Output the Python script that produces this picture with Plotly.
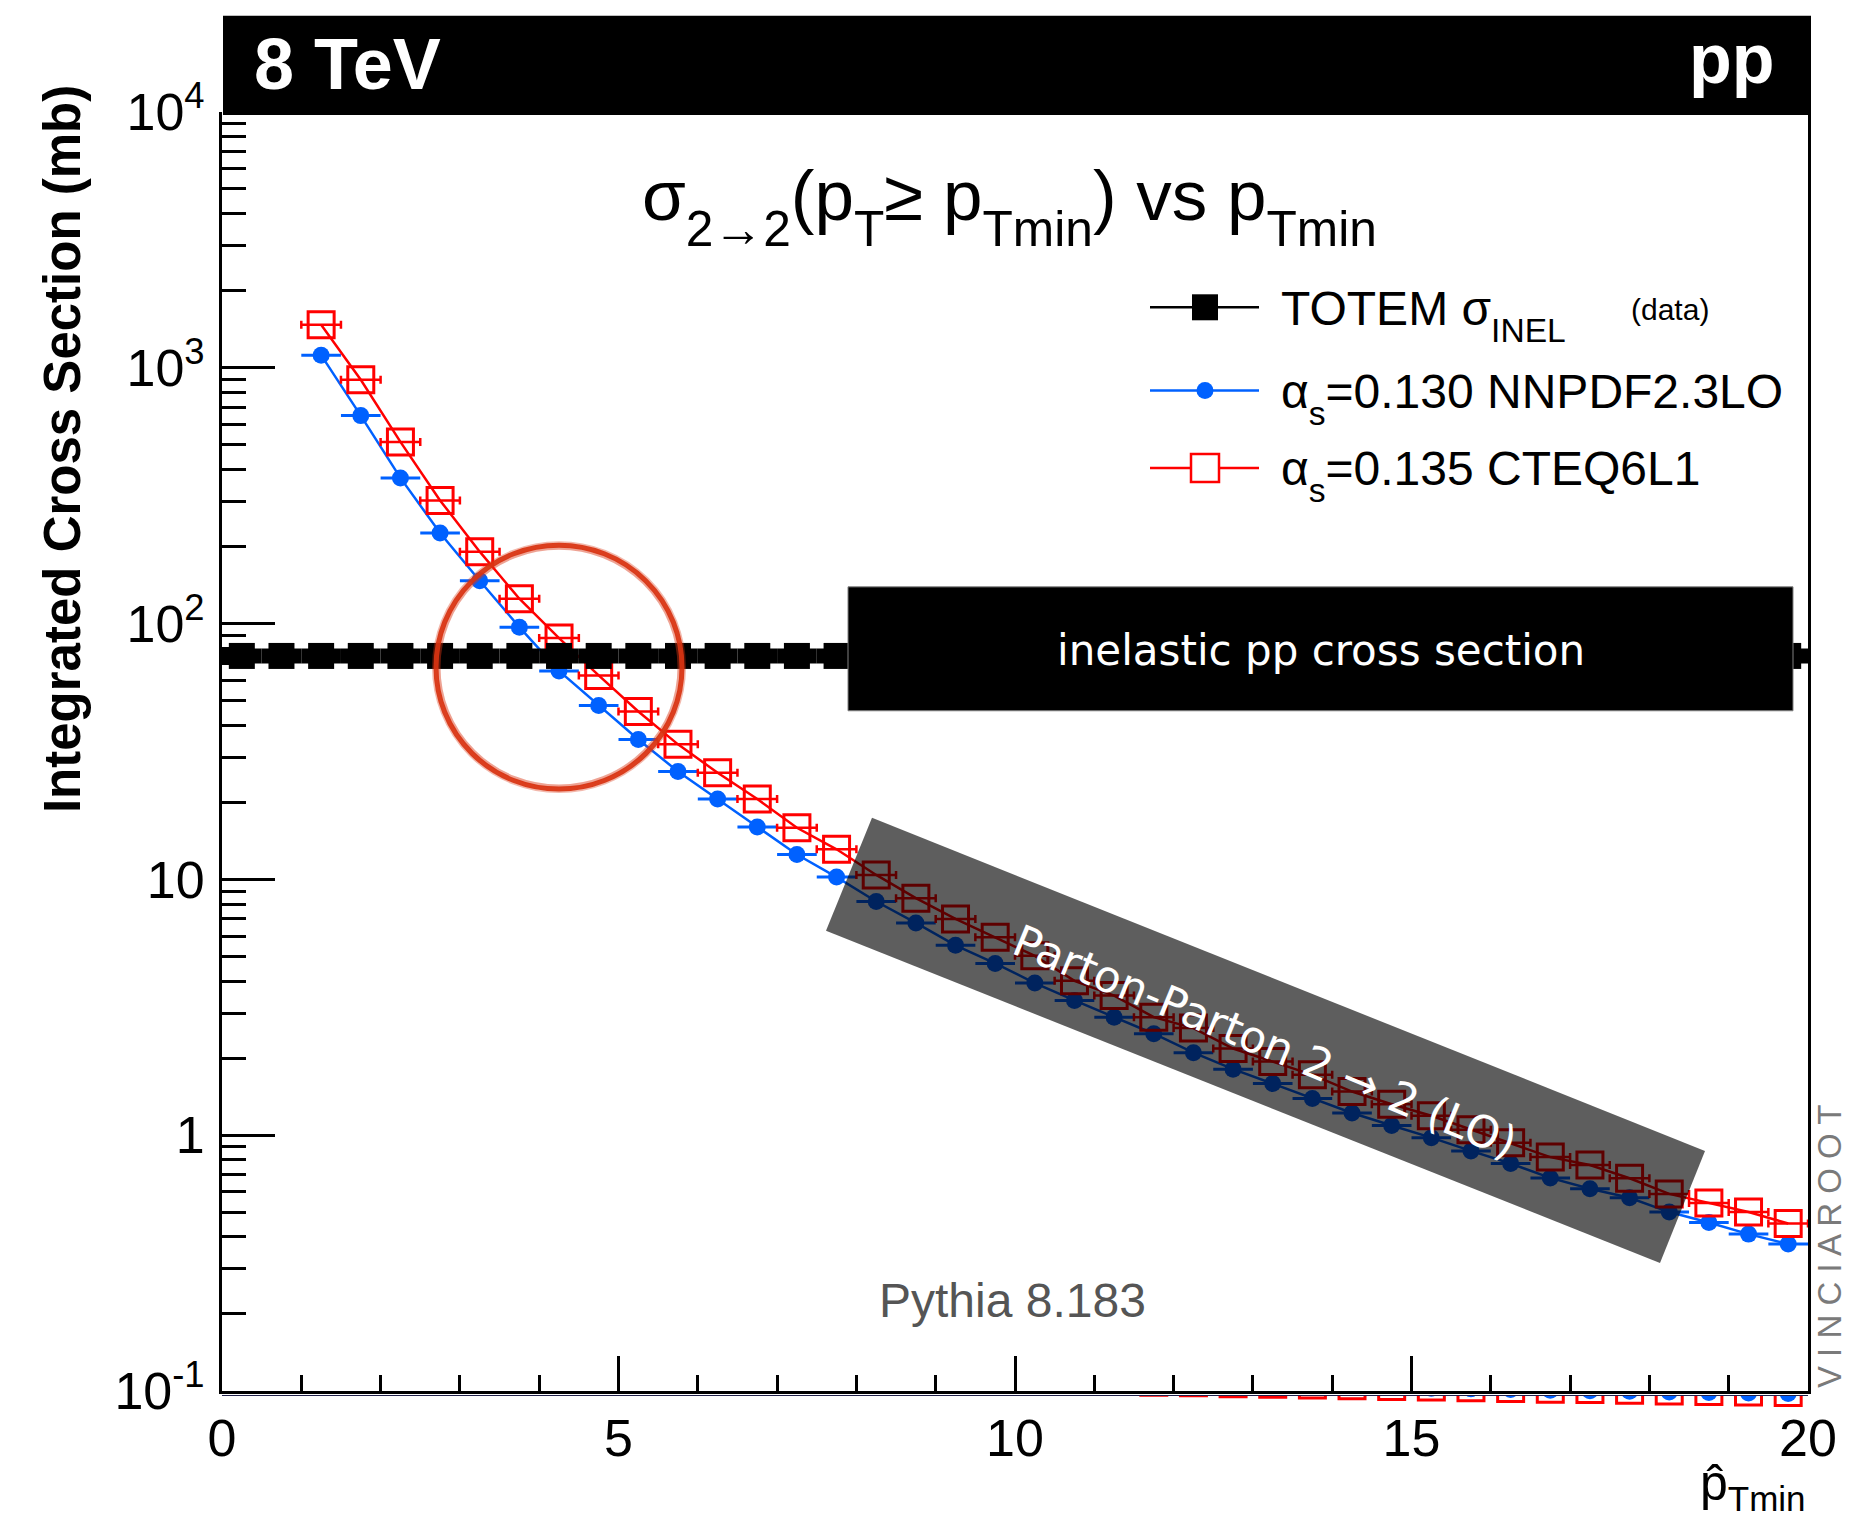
import plotly.graph_objects as go

# ---------------------------------------------------------------------------
# Data: integrated 2->2 cross section (mb) above pT_min, Pythia 8.183, 8 TeV pp
# ---------------------------------------------------------------------------
PT_MIN = [1.25, 1.75, 2.25, 2.75, 3.25, 3.75, 4.25, 4.75, 5.25, 5.75,
          6.25, 6.75, 7.25, 7.75, 8.25, 8.75, 9.25, 9.75, 10.25, 10.75,
          11.25, 11.75, 12.25, 12.75, 13.25, 13.75, 14.25, 14.75, 15.25, 15.75,
          16.25, 16.75, 17.25, 17.75, 18.25, 18.75, 19.25, 19.75]

SIGMA_NNPDF = [1120, 650, 371, 226, 147, 96.8, 65.3, 47.8, 35.2, 26.4,
               20.6, 16.0, 12.5, 10.2, 8.19, 6.75, 5.52, 4.69, 3.93, 3.36,
               2.89, 2.49, 2.10, 1.81, 1.59, 1.39, 1.22, 1.09, 0.977, 0.867,
               0.774, 0.68, 0.617, 0.569, 0.500, 0.455, 0.410, 0.375]

SIGMA_CTEQ = [1472, 898, 513, 303, 191, 125, 87.7, 62.7, 45.3, 33.7,
              26.1, 20.6, 15.9, 13.1, 10.4, 8.44, 7.0, 5.94, 5.02, 4.01,
              3.51, 2.89, 2.62, 2.18, 1.94, 1.72, 1.48, 1.32, 1.19, 1.05,
              0.933, 0.82, 0.764, 0.678, 0.589, 0.543, 0.500, 0.451]

HALF_BIN = 0.25

TOTEM_BINS = [0.25, 0.75, 1.25, 1.75, 2.25, 2.75, 3.25, 3.75, 4.25, 4.75,
              5.25, 5.75, 6.25, 6.75, 7.25, 7.75, 8.25, 8.75, 9.25, 9.75,
              10.25, 10.75, 11.25, 11.75, 12.25, 12.75, 13.25, 13.75, 14.25, 14.75,
              15.25, 15.75, 16.25, 16.75, 17.25, 17.75, 18.25, 18.75, 19.25, 19.75]
TOTEM_SIGMA_INEL = 74.7  # mb

Y_TICKS = [0.1, 1, 10, 100, 1000, 10000]
Y_TICK_TEXT = ["10<sup>-1</sup>", "1", "10", "10<sup>2</sup>", "10<sup>3</sup>", "10<sup>4</sup>"]

# ---------------------------------------------------------------------------
# Page geometry (pixels) and helpers to place decorations in paper units
# ---------------------------------------------------------------------------
W, H = 1866, 1529
PL, PR, PT, PB = 222, 1808, 112, 1500   # full plotting region
AXIS_Y = 1402                            # bottom of the main frame
LOWER_TOP = 1407                         # top of the lower strip
LOWER_PX_PER_DECADE = 13

def xp(px):
    return (px - PL) / (PR - PL)

def yp(py):
    return (PB - py) / (PB - PT)

FONT = "Liberation Sans, Arial, Helvetica, sans-serif"
HUMANIST = "DejaVu Sans, Verdana, sans-serif"
BLUE = "#0061ff"
RED = "#ff0000"

fig = go.Figure()

# NNPDF curve
fig.add_trace(go.Scatter(
    x=PT_MIN, y=SIGMA_NNPDF, mode="lines+markers", name="NNPDF",
    line=dict(color=BLUE, width=2.5),
    marker=dict(symbol="circle", size=17, color=BLUE),
    error_x=dict(type="constant", value=HALF_BIN, color=BLUE, thickness=3, width=0),
    showlegend=False, xaxis="x", yaxis="y"))

# CTEQ curve
fig.add_trace(go.Scatter(
    x=PT_MIN, y=SIGMA_CTEQ, mode="lines+markers", name="CTEQ",
    line=dict(color=RED, width=2.5),
    marker=dict(symbol="square-open", size=26, color=RED, line=dict(width=3, color=RED)),
    error_x=dict(type="constant", value=HALF_BIN, color=RED, thickness=2.5, width=4),
    showlegend=False, xaxis="x", yaxis="y"))

# TOTEM inelastic cross section band
fig.add_trace(go.Scatter(
    x=TOTEM_BINS, y=[TOTEM_SIGMA_INEL] * len(TOTEM_BINS), mode="markers", name="TOTEM",
    marker=dict(symbol="square", size=26, color="black"),
    error_x=dict(type="constant", value=HALF_BIN, color="black", thickness=15, width=0),
    showlegend=False, xaxis="x", yaxis="y"))

# lower strip: same points on a compressed scale, clipped at its top edge
fig.add_trace(go.Scatter(
    x=PT_MIN, y=SIGMA_NNPDF, mode="markers",
    marker=dict(symbol="circle", size=17, color=BLUE),
    showlegend=False, xaxis="x2", yaxis="y2"))
fig.add_trace(go.Scatter(
    x=PT_MIN, y=SIGMA_CTEQ, mode="markers",
    marker=dict(symbol="square-open", size=26, color=RED, line=dict(width=3, color=RED)),
    showlegend=False, xaxis="x2", yaxis="y2"))

shapes = []
# header banner
shapes.append(dict(type="rect", xref="paper", yref="paper",
                   x0=xp(223), x1=xp(1811), y0=yp(115), y1=yp(15),
                   fillcolor="black", line=dict(width=0), layer="above"))
# inelastic label box
shapes.append(dict(type="rect", xref="paper", yref="paper",
                   x0=xp(848), x1=xp(1793), y0=yp(716), y1=yp(591),
                   fillcolor="black", line=dict(width=1, color="#808080"), layer="above"))
# tilted translucent band over the 2->2 region
corners = [(872, 824), (1705, 1160), (1660, 1273), (826, 938)]
path = "M " + " L ".join(f"{xp(cx):.5f},{yp(cy):.5f}" for cx, cy in corners) + " Z"
shapes.append(dict(type="path", xref="paper", yref="paper", path=path,
                   fillcolor="rgba(0,0,0,0.63)", line=dict(width=0), layer="above"))
# hand-drawn style circle around the crossing
for r, w, col in [(123, 5, "rgba(217,52,18,0.95)"), (120, 3, "rgba(217,52,18,0.45)"),
                  (126, 2, "rgba(217,52,18,0.35)")]:
    shapes.append(dict(type="circle", xref="paper", yref="paper",
                       x0=xp(559 - r), x1=xp(559 + r), y0=yp(672 + r), y1=yp(672 - r),
                       line=dict(color=col, width=w), layer="above"))

# legend keys
LEG_X0, LEG_X1, LEG_XM = 1150, 1259, 1205
LEG_Y = [309, 393, 471]
for ly, col in zip(LEG_Y, ["black", BLUE, RED]):
    shapes.append(dict(type="line", xref="paper", yref="paper",
                       x0=xp(LEG_X0), x1=xp(LEG_X1), y0=yp(ly), y1=yp(ly),
                       line=dict(color=col, width=2.5), layer="above"))
shapes.append(dict(type="rect", xref="paper", yref="paper",
                   xsizemode="pixel", ysizemode="pixel",
                   xanchor=xp(LEG_XM), yanchor=yp(LEG_Y[0]), x0=-13, x1=13, y0=-13, y1=13,
                   fillcolor="black", line=dict(width=0), layer="above"))
shapes.append(dict(type="circle", xref="paper", yref="paper",
                   xsizemode="pixel", ysizemode="pixel",
                   xanchor=xp(LEG_XM), yanchor=yp(LEG_Y[1]), x0=-8.5, x1=8.5, y0=-8.5, y1=8.5,
                   fillcolor=BLUE, line=dict(width=0), layer="above"))
shapes.append(dict(type="rect", xref="paper", yref="paper",
                   xsizemode="pixel", ysizemode="pixel",
                   xanchor=xp(LEG_XM), yanchor=yp(LEG_Y[2]), x0=-14, x1=14, y0=-14, y1=14,
                   fillcolor="white", line=dict(width=2.5, color=RED), layer="above"))

ann = []
def text(t, px, py, size, color="black", xanchor="center", yanchor="middle",
         family=FONT, angle=0, bold=False):
    ann.append(dict(text=f"<b>{t}</b>" if bold else t, xref="paper", yref="paper",
                    x=xp(px), y=yp(py), xanchor=xanchor, yanchor=yanchor,
                    showarrow=False, textangle=angle,
                    font=dict(family=family, size=size, color=color)))

def low(s):
    # subscript pushed a little further below the baseline
    return f'<sub><span style="baseline-shift:-0.22em">{s}</span></sub>'

text("8 TeV", 252, 64, 72, "white", xanchor="left", bold=True)
text("pp", 1777, 59, 70, "white", xanchor="right", bold=True)
text(f"σ{low('2→2')}(p{low('T')}≥ p{low('Tmin')}) vs p{low('Tmin')}", 1009, 207, 71)
text(f"TOTEM σ{low('INEL')}", 1279, LEG_Y[0] + 8, 48, xanchor="left")
text("(data)", 1629, 311, 30, xanchor="left")
text(f"α{low('s')}=0.130 NNPDF2.3LO", 1279, LEG_Y[1] + 8, 48, xanchor="left")
text(f"α{low('s')}=0.135 CTEQ6L1", 1279, LEG_Y[2] + 8, 48, xanchor="left")
text("inelastic pp cross section", 1321, 655, 42, "white", family=HUMANIST)
text("Parton-Parton 2 → 2 (LO)", 1265, 1050, 44, "white", family=HUMANIST, angle=22.5)
text("Pythia 8.183", 1012, 1311, 48, "#555555")
text("V I N C I A R O O T", 1829, 1256, 33, "#7a7a7a", angle=-90)
text("Integrated Cross Section (mb)", 62, 452, 51, angle=-90, bold=True)
text("p\u0302<sub>Tmin</sub>", 1808, 1498, 50, xanchor="right")

main_dom = [yp(AXIS_Y), 1.0]
low_dom = [0.0, yp(LOWER_TOP)]
low_top = -0.6
low_span = (PB - LOWER_TOP) / LOWER_PX_PER_DECADE

fig.update_layout(
    width=W, height=H,
    margin=dict(l=PL, r=W - PR, t=PT, b=H - PB, pad=0),
    paper_bgcolor="white", plot_bgcolor="rgba(0,0,0,0)",
    font=dict(family=FONT, color="black"),
    showlegend=False,
    shapes=shapes, annotations=ann,
    xaxis=dict(domain=[0, 1], range=[0, 20], anchor="y",
               showline=True, linecolor="black", linewidth=3, mirror=False,
               showgrid=False, zeroline=False,
               tickmode="linear", tick0=0, dtick=5,
               ticks="inside", ticklen=35, tickwidth=2.5, tickcolor="black",
               tickfont=dict(size=52, family=FONT),
               minor=dict(dtick=1, ticks="inside", ticklen=16, tickwidth=2.5,
                          tickcolor="black", showgrid=False)),
    yaxis=dict(domain=main_dom, type="log", range=[-1, 4], anchor="x",
               showline=True, linecolor="black", linewidth=3, mirror=True,
               showgrid=False, zeroline=False,
               tickmode="array", tickvals=Y_TICKS, ticktext=Y_TICK_TEXT,
               ticks="inside", ticklen=53, tickwidth=2.5, tickcolor="black",
               tickfont=dict(size=52, family=FONT), ticklabelstandoff=4,
               minor=dict(dtick="D1", ticks="inside", ticklen=24, tickwidth=2.5,
                          tickcolor="black", showgrid=False)),
    xaxis2=dict(domain=[0, 1], matches="x", anchor="y2", side="top",
                showline=True, linecolor="#20204a", linewidth=1,
                showgrid=False, zeroline=False, ticks="", showticklabels=False),
    yaxis2=dict(domain=low_dom, type="log", range=[low_top - low_span, low_top], anchor="x2",
                visible=False, showgrid=False, zeroline=False),
)

fig.write_html("out.html")
